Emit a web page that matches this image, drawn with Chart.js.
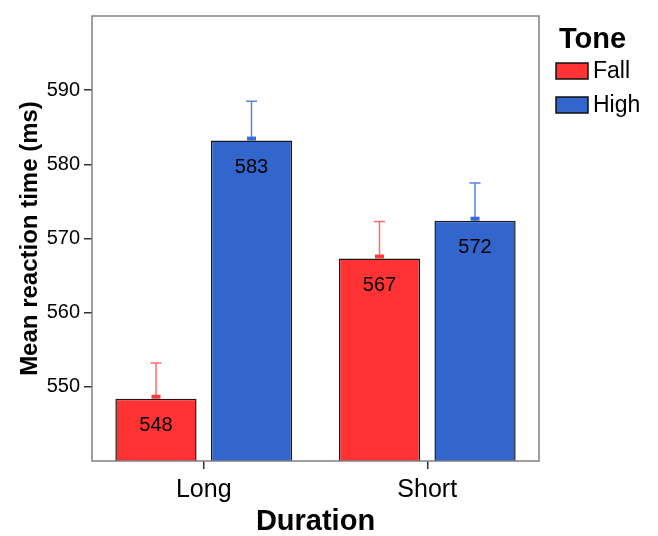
<!DOCTYPE html>
<html>
<head>
<meta charset="utf-8">
<script src="https://cdn.jsdelivr.net/npm/chart.js@4"></script>
<style>
  html, body { margin: 0; padding: 0; background: #fff; }
  #wrap { width: 658px; height: 536px; }
</style>
</head>
<body>
<div id="wrap"><canvas id="rt" width="658" height="536"></canvas></div>
<script>
// data
const durations = ['Long', 'Short'];
const fallMeans = [548.4, 567.3];
const highMeans = [583.2, 572.4];
const fallErrTop = [553.2, 572.3];
const highErrTop = [588.5, 577.5];
const yTicks = [550, 560, 570, 580, 590];

const FONT = "'Liberation Sans', Arial, sans-serif";

// error bars + mean marker + value labels
const barExtras = {
  id: 'barExtras',
  afterDatasetsDraw(chart) {
    const ctx = chart.ctx;
    const y = chart.scales.y;
    chart.data.datasets.forEach((ds, i) => {
      const meta = chart.getDatasetMeta(i);
      meta.data.forEach((bar, j) => {
        const x = bar.x;
        const top = y.getPixelForValue(ds.data[j]);
        const errY = y.getPixelForValue(ds.errTop[j]);
        ctx.save();
        ctx.strokeStyle = ds.errColor;
        ctx.lineWidth = 1.5;
        ctx.beginPath();
        ctx.moveTo(x, top);
        ctx.lineTo(x, errY);
        ctx.moveTo(x - 5.5, errY);
        ctx.lineTo(x + 5.5, errY);
        ctx.stroke();
        ctx.fillStyle = ds.markColor;
        ctx.fillRect(x - 4.5, top - 4, 9, 4);
        ctx.fillStyle = '#000';
        ctx.font = '20px ' + FONT;
        ctx.textAlign = 'center';
        ctx.textBaseline = 'middle';
        ctx.fillText(String(Math.round(ds.data[j] - 0.3)), x, top + 27);
        ctx.restore();
      });
    });
  }
};

// plot frame and legend
const frameLegend = {
  id: 'frameLegend',
  afterDraw(chart) {
    const ctx = chart.ctx;
    const a = chart.chartArea;
    ctx.save();
    ctx.strokeStyle = '#808080';
    ctx.lineWidth = 1.5;
    ctx.strokeRect(a.left, a.top, a.right - a.left, a.bottom - a.top);

    ctx.fillStyle = '#000';
    ctx.font = 'bold 29px ' + FONT;
    ctx.textBaseline = 'middle';
    ctx.textAlign = 'left';
    ctx.fillText('Tone', 559, 40);
    ctx.font = '23px ' + FONT;
    chart.data.datasets.forEach((ds, i) => {
      const by = 63 + i * 34;
      ctx.fillStyle = ds.backgroundColor;
      ctx.fillRect(556, by, 32, 16);
      ctx.strokeStyle = '#111';
      ctx.lineWidth = 1.5;
      ctx.strokeRect(556, by, 32, 16);
      ctx.fillStyle = '#000';
      ctx.fillText(ds.label, 593, by + 9);
    });
    ctx.restore();
  }
};

new Chart(document.getElementById('rt'), {
  type: 'bar',
  data: {
    labels: durations,
    datasets: [
      {
        label: 'Fall',
        data: fallMeans,
        errTop: fallErrTop,
        backgroundColor: '#ff3333',
        borderColor: '#1a1a1a',
        borderWidth: 1.5,
        borderSkipped: false,
        errColor: '#ff6b6b',
        markColor: '#ff3b3b',
        barPercentage: 0.85,
        categoryPercentage: 0.855
      },
      {
        label: 'High',
        data: highMeans,
        errTop: highErrTop,
        backgroundColor: '#3366cc',
        borderColor: '#1a1a1a',
        borderWidth: 1.5,
        borderSkipped: false,
        errColor: '#5585e0',
        markColor: '#3a6ad6',
        barPercentage: 0.85,
        categoryPercentage: 0.855
      }
    ]
  },
  options: {
    responsive: false,
    animation: false,
    layout: { padding: { top: 14, right: 119, left: 0, bottom: 0 } },
    plugins: {
      legend: { display: false },
      tooltip: { enabled: false }
    },
    scales: {
      y: {
        min: 540,
        max: 600,
        afterBuildTicks: (s) => { s.ticks = yTicks.map(v => ({ value: v })); },
        afterFit: (s) => { s.width = 92; },
        ticks: {
          color: '#000',
          padding: 4,
          font: { family: FONT, size: 20 }
        },
        grid: { drawOnChartArea: false, drawTicks: true, tickLength: 8, color: '#333', lineWidth: 1.5 },
        border: { display: false },
        title: {
          display: true,
          text: 'Mean reaction time (ms)',
          color: '#000',
          font: { family: FONT, size: 24, weight: 'bold', lineHeight: 1.2 },
          padding: { top: 16, bottom: 0 }
        }
      },
      x: {
        afterFit: (s) => { s.height = 75; },
        ticks: {
          color: '#000',
          padding: 6,
          font: { family: FONT, size: 25 }
        },
        grid: { drawOnChartArea: false, drawTicks: true, tickLength: 8, offset: false, color: '#333', lineWidth: 1.5 },
        border: { display: false },
        title: {
          display: true,
          text: 'Duration',
          color: '#000',
          font: { family: FONT, size: 29, weight: 'bold', lineHeight: 1 },
          padding: { top: 0, bottom: 0 }
        }
      }
    }
  },
  plugins: [barExtras, frameLegend]
});
</script>
</body>
</html>
